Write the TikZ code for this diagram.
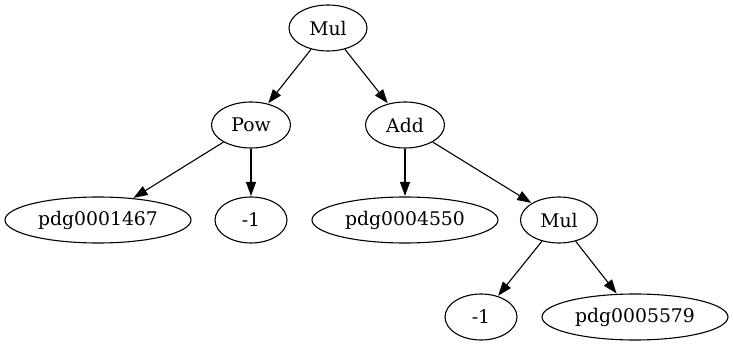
\documentclass[tikz,border=0pt]{standalone}
\usepackage{fontspec}
\setmainfont{DejaVu Serif}
\usetikzlibrary{shapes.geometric,arrows.meta}
\begin{document}
\begin{tikzpicture}[x=1pt,y=-1pt,
  tnode/.style={draw,ellipse,line width=1.1pt,inner sep=0pt,minimum height=46pt,font=\fontsize{18.8}{22}\selectfont},
  edge/.style={line width=1.1pt,-{Triangle[length=14pt,width=10pt]},shorten >=0.5pt}]
\useasboundingbox (0,0) rectangle (733,347);
\node[tnode,minimum width=78pt] (mul1) at (328,28) {Mul};
\node[tnode,minimum width=79pt] (pow) at (251,125) {Pow};
\node[tnode,minimum width=79pt] (add) at (405,125) {Add};
\node[tnode,minimum width=186pt] (p1467) at (98,220) {pdg0001467};
\node[tnode,minimum width=72pt] (m1a) at (251,220) {-1};
\node[tnode,minimum width=186pt] (p4550) at (405,220) {pdg0004550};
\node[tnode,minimum width=77pt] (mul2) at (559,220) {Mul};
\node[tnode,minimum width=72pt] (m1b) at (481,317) {-1};
\node[tnode,minimum width=186pt] (p5579) at (635,317) {pdg0005579};
\draw[edge] (mul1) -- (pow);
\draw[edge] (mul1) -- (add);
\draw[edge] (pow) -- (p1467);
\draw[edge] (pow) -- (m1a);
\draw[edge] (add) -- (p4550);
\draw[edge] (add) -- (mul2);
\draw[edge] (mul2) -- (m1b);
\draw[edge] (mul2) -- (p5579);
\end{tikzpicture}
\end{document}
